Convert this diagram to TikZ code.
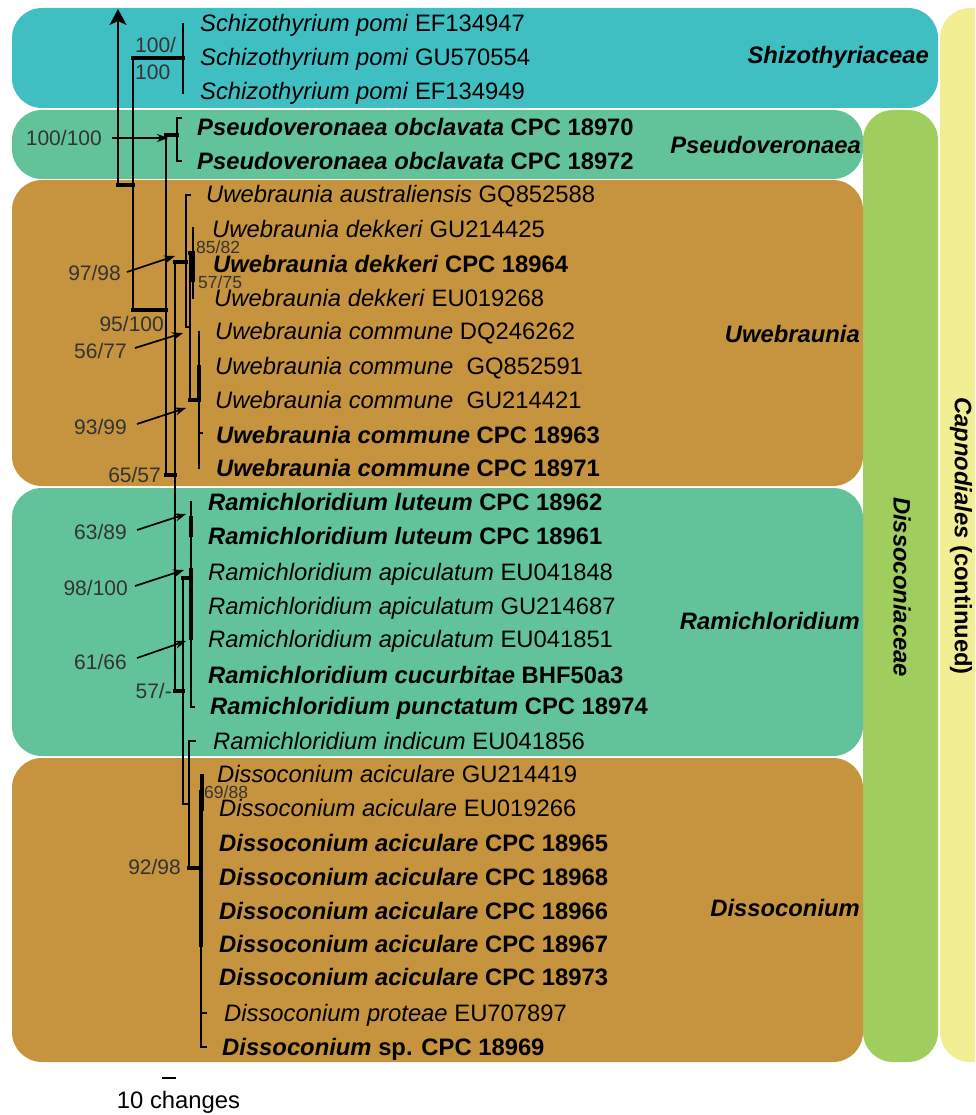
\documentclass[tikz,border=0pt]{standalone}
\usepackage{fontspec}
\setmainfont{Liberation Sans}
\usetikzlibrary{arrows.meta}
\definecolor{cyanbox}{HTML}{40BFC3}
\definecolor{greenbox}{HTML}{62C39B}
\definecolor{orangebox}{HTML}{C6933F}
\definecolor{limebox}{HTML}{A0CE5E}
\definecolor{yellowbox}{HTML}{F2EE93}
\definecolor{suppgray}{HTML}{333333}
\tikzset{
  grpbox/.style={rounded corners=30pt},
  thinbr/.style={line width=1.7pt, line cap=rect},
  thickbr/.style={line width=3.6pt, line cap=rect},
  leaf/.style={anchor=base west, inner sep=0pt, font=\fontsize{23.8}{28}\selectfont},
  grplabel/.style={anchor=base east, inner sep=0pt, font=\fontsize{23.8}{28}\selectfont\bfseries\itshape},
  supp/.style={inner sep=0pt, text=suppgray, font=\fontsize{21}{24}\selectfont},
  suppsmall/.style={inner sep=0pt, text=suppgray, font=\fontsize{17.5}{20}\selectfont, anchor=west},
  supparrow/.style={line width=1.7pt, -{Stealth[length=11pt,width=8pt]}},
}
\begin{document}
\begin{tikzpicture}[x=1pt,y=-1pt]
\useasboundingbox (0,0) rectangle (975,1115);
\clip (0,0) rectangle (975,1115);
% background boxes
\fill[yellowbox, grpbox] (940,8) rectangle (1010,1062);
\fill[limebox, grpbox] (863,110) rectangle (938,1062);
\fill[cyanbox, grpbox] (12,8) rectangle (938,108);
\fill[greenbox, grpbox] (12,110) rectangle (863,179);
\fill[orangebox, grpbox] (12,180) rectangle (863,486);
\fill[greenbox, grpbox] (12,488) rectangle (863,756);
\fill[orangebox, grpbox] (12,758) rectangle (863,1062);
% rotated labels
\node[rotate=-90, inner sep=0pt, font=\fontsize{23.8}{28}\selectfont\bfseries\itshape] (dissoc) at (902,587) {Dissoconiaceae};
\node[rotate=-90, inner sep=0pt, font=\fontsize{23.8}{28}\selectfont\bfseries] (capno) at (961,536) {\textit{Capnodiales} (continued)};
% group labels
\node[grplabel] (gShizo) at (929,63.5) {Shizothyriaceae};
\node[grplabel] (gPseudo) at (861,153.5) {Pseudoveronaea};
\node[grplabel] (gUwe) at (860,342.5) {Uwebraunia};
\node[grplabel] (gRami) at (860,629.5) {Ramichloridium};
\node[grplabel] (gDisso) at (860,916.5) {Dissoconium};
% leaves
\node[leaf] (L0) at (200,31.5) {\textit{Schizothyrium pomi} EF134947};
\node[leaf] (L1) at (200,65.5) {\textit{Schizothyrium pomi} GU570554};
\node[leaf] (L2) at (200,100) {\textit{Schizothyrium pomi} EF134949};
\node[leaf] (L3) at (197,136) {\bfseries\textit{Pseudoveronaea obclavata} CPC 18970};
\node[leaf] (L4) at (197,169.5) {\bfseries\textit{Pseudoveronaea obclavata} CPC 18972};
\node[leaf] (L5) at (206,203) {\textit{Uwebraunia australiensis} GQ852588};
\node[leaf] (L6) at (212,237) {\textit{Uwebraunia dekkeri} GU214425};
\node[leaf] (L7) at (213,272) {\bfseries\textit{Uwebraunia dekkeri} CPC 18964};
\node[leaf] (L8) at (214,306) {\textit{Uwebraunia dekkeri} EU019268};
\node[leaf] (L9) at (215,339.5) {\textit{Uwebraunia commune} DQ246262};
\node[leaf] (L10) at (215,374) {\textit{Uwebraunia commune}\ \ GQ852591};
\node[leaf] (L11) at (215,408) {\textit{Uwebraunia commune}\ \ GU214421};
\node[leaf] (L12) at (216,443) {\bfseries\textit{Uwebraunia commune} CPC 18963};
\node[leaf] (L13) at (216,476) {\bfseries\textit{Uwebraunia commune} CPC 18971};
\node[leaf] (L14) at (208,510.5) {\bfseries\textit{Ramichloridium luteum} CPC 18962};
\node[leaf] (L15) at (208,544.5) {\bfseries\textit{Ramichloridium luteum} CPC 18961};
\node[leaf] (L16) at (208,580) {\textit{Ramichloridium apiculatum} EU041848};
\node[leaf] (L17) at (208,614) {\textit{Ramichloridium apiculatum} GU214687};
\node[leaf] (L18) at (208,647.5) {\textit{Ramichloridium apiculatum} EU041851};
\node[leaf] (L19) at (208,683) {\bfseries\textit{Ramichloridium cucurbitae} BHF50a3};
\node[leaf] (L20) at (210,714.5) {\bfseries\textit{Ramichloridium punctatum} CPC 18974};
\node[leaf] (L21) at (213,749.5) {\textit{Ramichloridium indicum} EU041856};
\node[leaf] (L22) at (217,782.5) {\textit{Dissoconium aciculare} GU214419};
\node[leaf] (L23) at (219,816.5) {\textit{Dissoconium aciculare} EU019266};
\node[leaf] (L24) at (219,851.5) {\bfseries\textit{Dissoconium aciculare} CPC 18965};
\node[leaf] (L25) at (219,885.5) {\bfseries\textit{Dissoconium aciculare} CPC 18968};
\node[leaf] (L26) at (219,919.5) {\bfseries\textit{Dissoconium aciculare} CPC 18966};
\node[leaf] (L27) at (219,952.5) {\bfseries\textit{Dissoconium aciculare} CPC 18967};
\node[leaf] (L28) at (219,985.5) {\bfseries\textit{Dissoconium aciculare} CPC 18973};
\node[leaf] (L29) at (224,1021.5) {\textit{Dissoconium proteae} EU707897};
\node[leaf] (L30) at (222,1055.5) {\bfseries\textit{Dissoconium} sp. CPC 18969};
% tree
\draw[thinbr, -{Stealth[length=16pt,width=17pt,inset=4pt]}] (118,185) -- (118,9);
\draw[thickbr] (118,185) -- (133,185);
\draw[thinbr] (133,58) -- (133,310);
\draw[thickbr] (133,58) -- (183,58);
\draw[thinbr] (183,24) -- (183,93);
\draw[thickbr] (133,310) -- (166,310);
\draw[thinbr] (166,135) -- (166,475);
\draw[thickbr] (166,135) -- (177,135);
\draw[thinbr] (181,118) -- (177,118) -- (177,161) -- (181,161);
\draw[thickbr] (166,475) -- (175,475);
\draw[thinbr] (175,262) -- (175,691);
\draw[thickbr] (175,262) -- (186,262);
\draw[thinbr] (190,195) -- (186,195) -- (186,327) -- (190,327);
\draw[thinbr] (190,253) -- (190,400);
\draw[thickbr] (190,253) -- (193,253);
\draw[thinbr] (193,228) -- (193,298);
\draw[thickbr] (193,253) -- (193,280);
\draw[thickbr] (190,400) -- (199,400);
\draw[thinbr] (199,332) -- (199,468);
\draw[thinbr] (199,433) -- (202,433);
\draw[thickbr] (199,367) -- (199,400);
\draw[thickbr] (175,691) -- (183,691);
\draw[thinbr] (183,578) -- (183,804);
\draw[thickbr] (183,578) -- (191,578);
\draw[thinbr] (191,502) -- (191,707) -- (194,707);
\draw[thickbr] (191,518) -- (191,535);
\draw[thickbr] (191,570) -- (191,638);
\draw[thinbr] (183,804) -- (189,804);
\draw[thinbr] (195,741) -- (189,741) -- (189,868);
\draw[thickbr] (189,868) -- (201,868);
\draw[thinbr] (201,775) -- (201,1047) -- (206,1047);
\draw[thinbr] (201,1013) -- (206,1013);
\draw[thickbr] (201,792) -- (201,945);
\draw[thinbr] (203,775) -- (203,810);
% support values
\node[supp, anchor=west] (s100a) at (135,45) {100/};
\node[supp, anchor=west] (s100b) at (135,72) {100};
\node[supp, anchor=east] (s1) at (102,138) {100/100};
\coordinate (t1) at (168,138);
\draw[supparrow] ([xshift=10pt]s1.east) -- (t1);
\node[supp, anchor=east] (s2) at (121,273) {97/98};
\coordinate (t2) at (175,256);
\draw[supparrow] ([xshift=6pt,yshift=1pt]s2.east) -- (t2);
\node[supp, anchor=east] (s3) at (164,324) {95/100};
\node[supp, anchor=east] (s4) at (127,351) {56/77};
\coordinate (t4) at (183,333);
\draw[supparrow] ([xshift=8pt,yshift=3pt]s4.east) -- (t4);
\node[supp, anchor=east] (s5) at (127,427) {93/99};
\coordinate (t5) at (186,408);
\draw[supparrow] ([xshift=10pt,yshift=3pt]s5.east) -- (t5);
\node[supp, anchor=east] (s6) at (161,475) {65/57};
\node[supp, anchor=east] (s7) at (127,532) {63/89};
\coordinate (t7) at (186,514);
\draw[supparrow] ([xshift=10pt,yshift=2pt]s7.east) -- (t7);
\node[supp, anchor=east] (s8) at (128,588) {98/100};
\coordinate (t8) at (184,570);
\draw[supparrow] ([xshift=7pt,yshift=2pt]s8.east) -- (t8);
\node[supp, anchor=east] (s9) at (127,662) {61/66};
\coordinate (t9) at (186,641);
\draw[supparrow] ([xshift=10pt,yshift=4pt]s9.east) -- (t9);
\node[supp, anchor=east] (s10) at (172,691) {57/-};
\node[supp, anchor=east] (s11) at (181,867) {92/98};
\node[suppsmall] (s12) at (196,247) {85/82};
\node[suppsmall] (s13) at (198,282) {57/75};
\node[suppsmall] (s14) at (204,792) {69/88};
% scale bar
\draw[line width=1.5pt] (162,1078) -- (176,1078);
\node[inner sep=0pt, font=\fontsize{23.8}{28}\selectfont] (scale) at (178.5,1102) {10 changes};
\end{tikzpicture}
\end{document}
